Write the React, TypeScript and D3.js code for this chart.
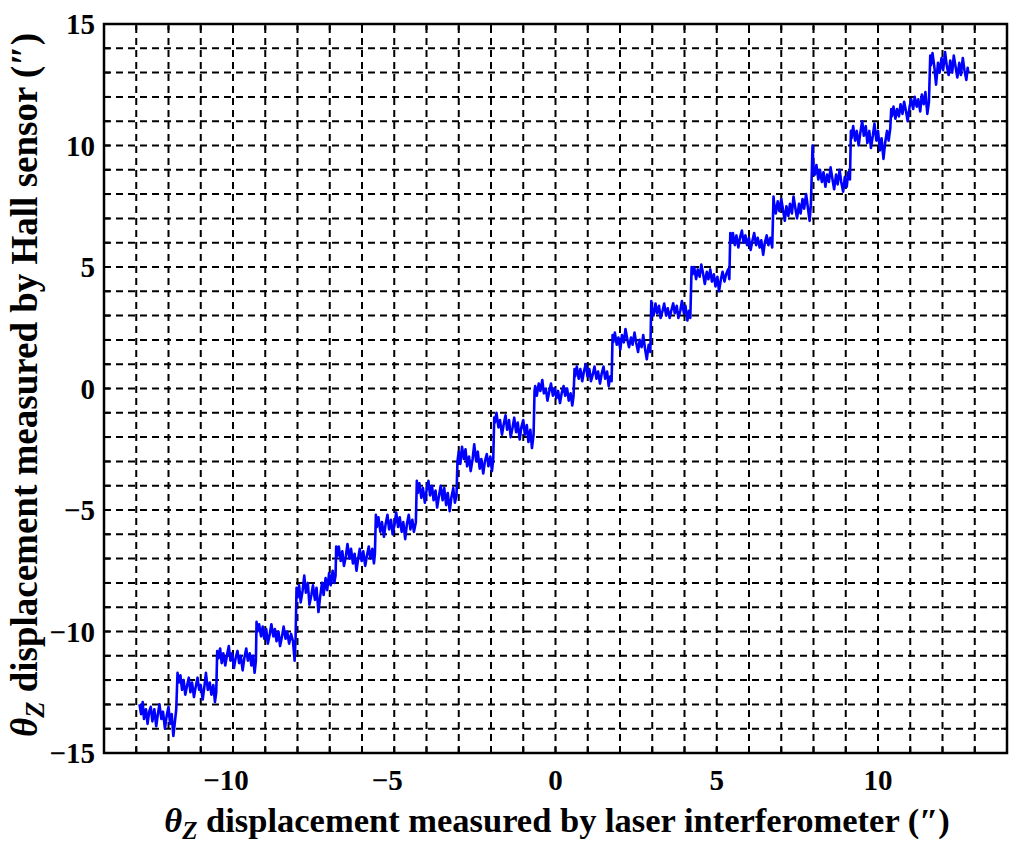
import React from "react";
import * as d3 from "d3";

const W = 1024;
const H = 846;

const xTicks = [-10, -5, 0, 5, 10];
const yTicks = [-15, -10, -5, 0, 5, 10, 15];
const xGrid = d3.range(-13, 14);
const yGrid = d3.range(-14, 15);

// [laser interferometer θz, Hall sensor θz]
const seriesA: [number, number][] = [[-12.9,-13.0],[-12.85,-13.4],[-12.8,-12.9],[-12.76,-13.6],[-12.7,-13.2],[-12.65,-13.8],[-12.6,-13.3],[-12.55,-13.1],[-12.5,-13.7],[-12.44,-13.2],[-12.38,-13.9],[-12.33,-13.4],[-12.28,-13.0],[-12.22,-13.6],[-12.17,-13.3],[-12.11,-14.0],[-12.06,-13.5],[-12.0,-13.1],[-11.95,-13.8],[-11.9,-13.4],[-11.85,-14.3],[-11.8,-13.7],[-11.76,-13.2],[-11.72,-11.7]];
const seriesB: [number, number][] = [[-11.68,-12.1],[-11.63,-11.8],[-11.58,-12.4],[-11.53,-12.0],[-11.48,-12.6],[-11.42,-12.2],[-11.37,-11.9],[-11.32,-12.5],[-11.27,-12.1],[-11.21,-12.7],[-11.16,-12.3],[-11.1,-11.9],[-11.05,-12.4],[-11.0,-12.2],[-10.94,-12.8],[-10.89,-12.3],[-10.84,-11.7],[-10.78,-12.4],[-10.72,-12.1],[-10.67,-12.6],[-10.61,-12.2],[-10.56,-12.9],[-10.52,-12.5],[-10.49,-10.8]];
const seriesC: [number, number][] = [[-10.45,-11.1],[-10.4,-10.7],[-10.35,-11.3],[-10.3,-10.9],[-10.24,-11.4],[-10.19,-11.0],[-10.13,-10.6],[-10.08,-11.2],[-10.03,-10.9],[-9.97,-11.5],[-9.92,-11.1],[-9.86,-10.8],[-9.81,-11.3],[-9.76,-11.0],[-9.7,-11.6],[-9.65,-11.1],[-9.59,-10.7],[-9.54,-11.2],[-9.48,-10.9],[-9.43,-11.4],[-9.38,-11.0],[-9.33,-11.7],[-9.29,-11.2],[-9.27,-9.6]];
const seriesD: [number, number][] = [[-9.24,-10.0],[-9.19,-9.7],[-9.13,-10.2],[-9.08,-9.8],[-9.03,-10.3],[-8.97,-9.9],[-8.92,-10.5],[-8.86,-10.1],[-8.81,-9.7],[-8.75,-10.2],[-8.7,-9.9],[-8.65,-10.4],[-8.59,-10.0],[-8.54,-10.6],[-8.48,-10.2],[-8.43,-9.8],[-8.37,-10.3],[-8.32,-10.0],[-8.26,-10.5],[-8.2,-10.1],[-8.14,-10.4],[-8.09,-11.2],[-8.06,-10.3],[-8.03,-8.2]];
const seriesE: [number, number][] = [[-8.0,-8.6],[-7.95,-8.1],[-7.9,-8.8],[-7.84,-8.3],[-7.79,-7.7],[-7.74,-8.4],[-7.68,-8.0],[-7.63,-8.9],[-7.57,-8.5],[-7.52,-8.1],[-7.46,-8.7],[-7.41,-8.2],[-7.35,-9.2],[-7.3,-8.6],[-7.24,-8.0],[-7.19,-8.5],[-7.13,-7.8],[-7.08,-8.3],[-7.02,-7.6],[-6.97,-8.1],[-6.91,-7.5],[-6.86,-8.0],[-6.82,-7.7],[-6.8,-6.5]];
const seriesF: [number, number][] = [[-6.77,-6.9],[-6.72,-6.5],[-6.66,-7.1],[-6.61,-6.7],[-6.56,-7.3],[-6.5,-6.9],[-6.45,-6.4],[-6.39,-7.0],[-6.34,-6.6],[-6.28,-7.2],[-6.23,-6.8],[-6.17,-7.5],[-6.12,-7.0],[-6.07,-6.6],[-6.01,-7.1],[-5.96,-6.7],[-5.9,-7.3],[-5.85,-6.9],[-5.79,-6.5],[-5.74,-7.0],[-5.68,-6.6],[-5.63,-7.2],[-5.6,-6.8],[-5.57,-5.2]];
const seriesG: [number, number][] = [[-5.54,-5.7],[-5.49,-5.3],[-5.43,-5.9],[-5.38,-5.5],[-5.32,-6.1],[-5.27,-5.6],[-5.21,-5.2],[-5.16,-5.8],[-5.1,-5.4],[-5.05,-6.0],[-4.99,-5.6],[-4.94,-5.1],[-4.88,-5.7],[-4.83,-5.3],[-4.77,-5.9],[-4.72,-5.5],[-4.66,-6.2],[-4.61,-5.6],[-4.55,-5.2],[-4.5,-5.8],[-4.44,-5.4],[-4.39,-5.9],[-4.33,-5.5],[-4.3,-3.8]];
const seriesH: [number, number][] = [[-4.27,-4.3],[-4.22,-3.9],[-4.16,-4.5],[-4.11,-4.1],[-4.05,-4.7],[-4.0,-4.2],[-3.94,-3.8],[-3.89,-4.4],[-3.83,-4.0],[-3.78,-4.6],[-3.72,-4.2],[-3.67,-4.9],[-3.61,-4.4],[-3.56,-4.0],[-3.5,-4.6],[-3.45,-4.1],[-3.39,-4.8],[-3.34,-4.3],[-3.28,-5.05],[-3.23,-4.5],[-3.17,-4.1],[-3.12,-4.7],[-3.07,-4.4],[-3.04,-3.0]];
const seriesI: [number, number][] = [[-3.0,-2.6],[-2.95,-3.1],[-2.9,-2.4],[-2.84,-2.9],[-2.79,-2.5],[-2.74,-3.2],[-2.68,-2.8],[-2.63,-3.4],[-2.57,-2.9],[-2.52,-2.3],[-2.46,-3.0],[-2.41,-2.6],[-2.35,-3.3],[-2.3,-2.9],[-2.24,-3.5],[-2.19,-3.0],[-2.13,-2.7],[-2.08,-3.2],[-2.02,-2.8],[-1.97,-3.4],[-1.93,-2.9],[-1.9,-1.2]];
const seriesJ: [number, number][] = [[-1.88,-1.4],[-1.83,-1.0],[-1.77,-1.6],[-1.72,-1.3],[-1.66,-1.9],[-1.61,-1.5],[-1.55,-1.1],[-1.5,-1.7],[-1.44,-1.3],[-1.39,-2.0],[-1.33,-1.6],[-1.28,-1.2],[-1.22,-1.8],[-1.17,-1.4],[-1.11,-2.1],[-1.06,-1.6],[-1.0,-1.3],[-0.95,-1.9],[-0.89,-1.5],[-0.84,-2.2],[-0.78,-1.7],[-0.73,-2.45],[-0.68,-1.9],[-0.65,-0.1]];
const seriesK: [number, number][] = [[-0.63,0.1],[-0.58,-0.3],[-0.52,0.2],[-0.47,-0.1],[-0.41,0.35],[-0.36,-0.2],[-0.3,0.0],[-0.25,-0.5],[-0.19,-0.1],[-0.14,0.2],[-0.08,-0.3],[-0.03,0.0],[0.03,-0.4],[0.08,-0.1],[0.14,-0.6],[0.19,-0.2],[0.25,0.1],[0.3,-0.3],[0.36,0.0],[0.41,-0.5],[0.47,-0.2],[0.52,-0.7],[0.56,-0.3],[0.59,0.8]];
const seriesL: [number, number][] = [[0.61,0.5],[0.66,0.9],[0.72,0.4],[0.77,0.8],[0.83,0.3],[0.88,0.7],[0.94,1.0],[0.99,0.5],[1.05,0.8],[1.1,0.3],[1.16,0.6],[1.21,0.9],[1.27,0.4],[1.32,0.7],[1.38,0.2],[1.43,0.6],[1.49,0.9],[1.54,0.4],[1.6,0.7],[1.65,0.1],[1.7,0.5],[1.74,0.3],[1.77,2.2]];
const seriesM: [number, number][] = [[1.79,1.9],[1.84,2.3],[1.9,1.8],[1.95,2.1],[2.01,1.6],[2.06,2.2],[2.12,1.9],[2.17,2.45],[2.23,2.0],[2.28,1.7],[2.34,2.1],[2.39,1.8],[2.45,2.3],[2.5,1.9],[2.56,1.5],[2.61,2.0],[2.67,1.7],[2.72,2.2],[2.78,1.6],[2.83,1.2],[2.89,1.8],[2.94,1.5],[2.97,3.6]];
const seriesN: [number, number][] = [[2.99,3.3],[3.04,3.0],[3.1,3.5],[3.15,3.1],[3.21,3.4],[3.26,2.9],[3.32,3.2],[3.37,3.5],[3.43,3.0],[3.48,3.3],[3.54,2.9],[3.59,3.2],[3.65,3.5],[3.7,3.1],[3.76,3.4],[3.81,2.9],[3.87,3.2],[3.92,3.6],[3.98,3.1],[4.03,3.4],[4.09,2.8],[4.14,3.2],[4.18,2.9],[4.22,5.0]];
const seriesO: [number, number][] = [[4.25,4.7],[4.3,5.0],[4.36,4.5],[4.41,4.9],[4.47,4.6],[4.52,5.1],[4.58,4.7],[4.63,4.3],[4.69,4.8],[4.74,4.5],[4.8,4.9],[4.85,4.4],[4.91,4.7],[4.96,4.2],[5.02,4.6],[5.07,4.0],[5.13,4.5],[5.18,4.8],[5.24,4.4],[5.29,4.7],[5.35,4.9],[5.39,4.5],[5.42,6.4]];
const seriesP: [number, number][] = [[5.45,6.0],[5.5,6.4],[5.56,5.9],[5.61,6.3],[5.67,5.8],[5.72,6.2],[5.78,6.5],[5.83,6.0],[5.89,6.3],[5.94,5.9],[6.0,6.2],[6.05,5.7],[6.11,6.1],[6.16,6.4],[6.22,5.9],[6.27,6.2],[6.33,5.8],[6.38,6.1],[6.44,5.5],[6.49,6.0],[6.55,6.3],[6.6,5.9],[6.66,6.2],[6.72,5.8],[6.76,7.9]];
const seriesQ: [number, number][] = [[6.78,7.6],[6.83,7.2],[6.89,7.7],[6.94,7.3],[7.0,7.8],[7.05,7.4],[7.11,6.9],[7.16,7.5],[7.22,7.1],[7.27,7.6],[7.33,7.2],[7.38,7.9],[7.44,7.4],[7.49,7.0],[7.55,7.6],[7.6,7.2],[7.66,7.8],[7.71,7.4],[7.77,8.0],[7.82,7.5],[7.88,6.9],[7.92,7.6],[7.95,9.0],[7.97,10.0],[8.0,9.1]];
const seriesR: [number, number][] = [[8.04,8.8],[8.09,9.2],[8.15,8.6],[8.2,9.0],[8.26,8.5],[8.31,8.9],[8.37,8.3],[8.42,8.8],[8.48,8.5],[8.53,9.1],[8.59,8.6],[8.64,8.2],[8.7,8.8],[8.75,8.4],[8.81,9.0],[8.86,8.5],[8.92,8.1],[8.97,8.7],[9.03,8.3],[9.08,8.9],[9.13,8.6],[9.16,10.6]];
const seriesS: [number, number][] = [[9.18,10.3],[9.23,10.8],[9.29,10.2],[9.34,10.6],[9.4,10.0],[9.45,10.5],[9.51,11.0],[9.56,10.4],[9.62,10.8],[9.67,10.1],[9.73,10.6],[9.78,9.9],[9.84,10.4],[9.89,10.9],[9.95,10.2],[10.0,10.6],[10.06,9.8],[10.11,10.3],[10.17,9.45],[10.22,10.1],[10.28,10.6],[10.33,10.2],[10.38,10.7],[10.41,11.5]];
const seriesT: [number, number][] = [[10.43,11.2],[10.48,11.6],[10.54,11.1],[10.59,11.5],[10.65,11.2],[10.7,11.7],[10.76,11.3],[10.81,11.8],[10.87,11.4],[10.92,11.0],[10.98,11.6],[11.03,11.9],[11.09,11.5],[11.14,12.0],[11.2,11.6],[11.25,11.9],[11.31,11.4],[11.36,12.1],[11.42,11.7],[11.47,12.2],[11.53,11.3],[11.58,11.8],[11.62,13.7]];
const seriesU: [number, number][] = [[11.64,13.3],[11.69,13.8],[11.75,13.2],[11.8,12.5],[11.86,13.4],[11.91,13.0],[11.97,13.6],[12.02,13.1],[12.08,13.85],[12.13,13.3],[12.19,12.9],[12.24,13.5],[12.3,13.0],[12.35,13.7],[12.41,13.2],[12.46,12.8],[12.52,13.4],[12.57,12.9],[12.63,13.6],[12.68,13.1],[12.74,12.7],[12.78,13.2],[12.8,13.0]];

const data: [number, number][] = [
  ...seriesA, ...seriesB, ...seriesC, ...seriesD, ...seriesE, ...seriesF, ...seriesG,
  ...seriesH, ...seriesI, ...seriesJ, ...seriesK, ...seriesL, ...seriesM, ...seriesN,
  ...seriesO, ...seriesP, ...seriesQ, ...seriesR, ...seriesS, ...seriesT, ...seriesU,
];

const left = 104, right = 1007, top = 24, bottom = 753;

export default function App() {
  const x = d3.scaleLinear().domain([-14, 14]).range([left, right]);
  const y = d3.scaleLinear().domain([-15, 15]).range([bottom, top]);
  const line = d3.line<[number, number]>().x(d => x(d[0])).y(d => y(d[1]));
  const font = "'Liberation Serif', 'Times New Roman', serif";
  const fmt = (v: number) => (v < 0 ? "\u2212" + Math.abs(v) : String(v));
  const tickLen = 6;

  return (
    <svg width={W} height={H} style={{ position: "absolute", left: 0, top: 0, background: "#fff" }}>
      <rect x={0} y={0} width={W} height={H} fill="#fff" />
      {/* grid */}
      <g stroke="#000" strokeWidth={2} strokeDasharray="7,5">
        {xGrid.map(v => (
          <line key={"gx" + v} x1={x(v)} x2={x(v)} y1={bottom} y2={top} />
        ))}
        {yGrid.map(v => (
          <line key={"gy" + v} x1={left} x2={right} y1={y(v)} y2={y(v)} />
        ))}
      </g>
      {/* frame ticks */}
      <g stroke="#000" strokeWidth={2}>
        {xGrid.map(v => (
          <g key={"tx" + v}>
            <line x1={x(v)} x2={x(v)} y1={bottom} y2={bottom - tickLen} />
            <line x1={x(v)} x2={x(v)} y1={top} y2={top + tickLen} />
          </g>
        ))}
        {yGrid.map(v => (
          <g key={"ty" + v}>
            <line x1={left} x2={left + tickLen} y1={y(v)} y2={y(v)} />
            <line x1={right} x2={right - tickLen} y1={y(v)} y2={y(v)} />
          </g>
        ))}
      </g>
      {/* data */}
      <path d={line(data) || ""} fill="none" stroke="#0000ff" strokeWidth={2.6} strokeLinejoin="round" />
      {/* frame */}
      <rect x={left} y={top} width={right - left} height={bottom - top} fill="none" stroke="#000" strokeWidth={2.5} />
      {/* tick labels */}
      <g fontFamily={font} fontWeight="bold" fontSize={29} fill="#000">
        {xTicks.map(v => (
          <text key={"lx" + v} x={x(v) - (v < 0 ? 7 : 0)} y={790} textAnchor="middle">{fmt(v)}</text>
        ))}
        {yTicks.map(v => (
          <text key={"ly" + v} x={95} y={y(v)} dy="0.35em" textAnchor="end">{fmt(v)}</text>
        ))}
      </g>
      {/* axis titles */}
      <text x={557} y={832} textAnchor="middle" fontFamily={font} fontWeight="bold" fontSize={34.5} fill="#000">
        <tspan fontStyle="italic">θ</tspan>
        <tspan fontStyle="italic" fontSize={25} dy={7}>Z</tspan>
        <tspan dy={-7}> displacement measured by laser interferometer (</tspan>
        <tspan fontStyle="italic">″</tspan>
        <tspan>)</tspan>
      </text>
      <text transform={`translate(37, ${385}) rotate(-90)`} textAnchor="middle" fontFamily={font} fontWeight="bold" fontSize={37} fill="#000">
        <tspan fontStyle="italic">θ</tspan>
        <tspan fontStyle="italic" fontSize={26.5} dy={7}>Z</tspan>
        <tspan dy={-7}> displacement measured by Hall sensor (</tspan>
        <tspan fontStyle="italic">″</tspan>
        <tspan>)</tspan>
      </text>
    </svg>
  );
}
